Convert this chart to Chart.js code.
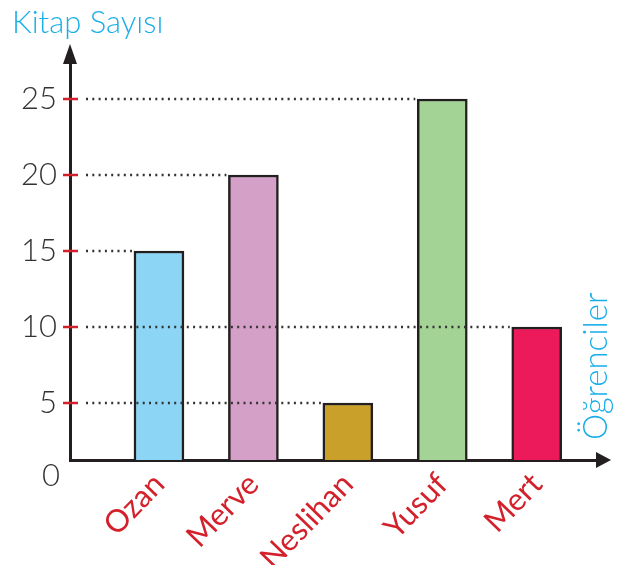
<!DOCTYPE html>
<html>
<head>
<meta charset="utf-8">
<script src="https://cdn.jsdelivr.net/npm/chart.js@4.4.1/dist/chart.umd.min.js"></script>
<style>
  html,body{margin:0;padding:0;background:#fff;}
  #wrap{width:631px;height:565px;position:relative;}
</style>
</head>
<body>
<div id="wrap"><canvas id="c"></canvas></div>
<script>
// donnees du graphique
const names = ['Ozan', 'Merve', 'Neslihan', 'Yusuf', 'Mert'];
const books = [15, 20, 5, 25, 10];
const barColors = ['#8dd5f5', '#d5a0c8', '#c9a12a', '#a3d395', '#ec1a5b'];
const yTicks = [5, 10, 15, 20, 25];
const yTitle = 'Kitap Sayısı';
const xTitle = 'Öğrenciler';

const INK = '#231f20';
const RED = '#d3212c';
const CYAN = '#1aaee8';
const FONT = 'Lato, "DejaVu Sans", sans-serif';

// petit plugin : fleches, traits rouges, pointilles, titres
const decor = {
  id: 'decor',
  afterDatasetsDraw(chart){
    const {ctx, chartArea:a, scales:{y}} = chart;
    const meta = chart.getDatasetMeta(0);
    ctx.save();
    // pointilles du niveau de chaque barre jusqu'a son bord gauche
    ctx.strokeStyle = '#333';
    ctx.lineWidth = 2.5;
    ctx.setLineDash([2, 4.3]);
    books.forEach((v, i) => {
      const bar = meta.data[i];
      const py = Math.round(y.getPixelForValue(v));
      const xEnd = bar.x - bar.width/2 - 2;
      ctx.beginPath();
      ctx.moveTo(a.left + 16, py);
      ctx.lineTo(xEnd, py);
      ctx.stroke();
    });
    ctx.setLineDash([]);
    // traits rouges sur l'axe
    ctx.strokeStyle = RED;
    ctx.lineWidth = 2.5;
    yTicks.forEach(v => {
      const py = Math.round(y.getPixelForValue(v));
      ctx.beginPath();
      ctx.moveTo(a.left - 7, py);
      ctx.lineTo(a.left + 8, py);
      ctx.stroke();
    });
    // fleches
    ctx.fillStyle = INK;
    ctx.beginPath();
    ctx.moveTo(a.left, a.top - 17);
    ctx.lineTo(a.left - 7, a.top + 3);
    ctx.lineTo(a.left + 7, a.top + 3);
    ctx.closePath();
    ctx.fill();
    ctx.beginPath();
    ctx.moveTo(a.right + 11, a.bottom);
    ctx.lineTo(a.right - 4, a.bottom - 8);
    ctx.lineTo(a.right - 4, a.bottom + 8);
    ctx.closePath();
    ctx.fill();
    // origine
    ctx.fillStyle = '#333';
    ctx.font = '300 31px ' + FONT;
    ctx.textAlign = 'right';
    ctx.textBaseline = 'middle';
    ctx.fillText('0', a.left - 10, a.bottom + 16);
    // titres
    ctx.fillStyle = CYAN;
    ctx.font = '300 31px ' + FONT;
    ctx.textAlign = 'left';
    ctx.textBaseline = 'alphabetic';
    ctx.fillText(yTitle, 12, 33);
    ctx.translate(607, a.bottom - 20);
    ctx.rotate(-Math.PI/2);
    ctx.font = '300 33px ' + FONT;
    ctx.fillText(xTitle, 0, 0);
    ctx.restore();
  }
};

new Chart(document.getElementById('c'), {
  type: 'bar',
  data: {
    datasets: [{
      data: books.map((v, i) => ({x: i + 1, y: v})),
      backgroundColor: barColors,
      borderColor: INK,
      borderWidth: 2.5,
      borderSkipped: false,
      barThickness: 50
    }]
  },
  options: {
    responsive: true,
    maintainAspectRatio: false,
    animation: false,
    layout: {padding: {top: 61, right: 31, left: 0, bottom: 0}},
    plugins: {legend: {display: false}, tooltip: {enabled: false}},
    scales: {
      x: {
        type: 'linear',
        offset: false,
        min: 0.058,
        max: 5.67,
        afterBuildTicks: s => { s.ticks = names.map((n, i) => ({value: i + 1})); },
        afterFit: s => { s.height = 105; s.paddingLeft = 0; s.paddingRight = 0; },
        grid: {drawOnChartArea: false, drawTicks: false},
        border: {color: INK, width: 3},
        ticks: {
          autoSkip: false,
          minRotation: 46,
          maxRotation: 46,
          padding: 6,
          color: RED,
          font: {family: FONT, size: 31, weight: 400},
          callback: v => names[v - 1] || ''
        }
      },
      y: {
        min: 1.25,
        max: 27.5,
        afterBuildTicks: s => { s.ticks = yTicks.map(v => ({value: v})); },
        afterFit: s => { s.width = 70; },
        grid: {drawOnChartArea: false, drawTicks: false},
        border: {color: INK, width: 3},
        ticks: {
          padding: 13,
          color: '#333',
          font: {family: FONT, size: 31, weight: 300}
        }
      }
    }
  },
  plugins: [decor]
});
</script>
</body>
</html>
